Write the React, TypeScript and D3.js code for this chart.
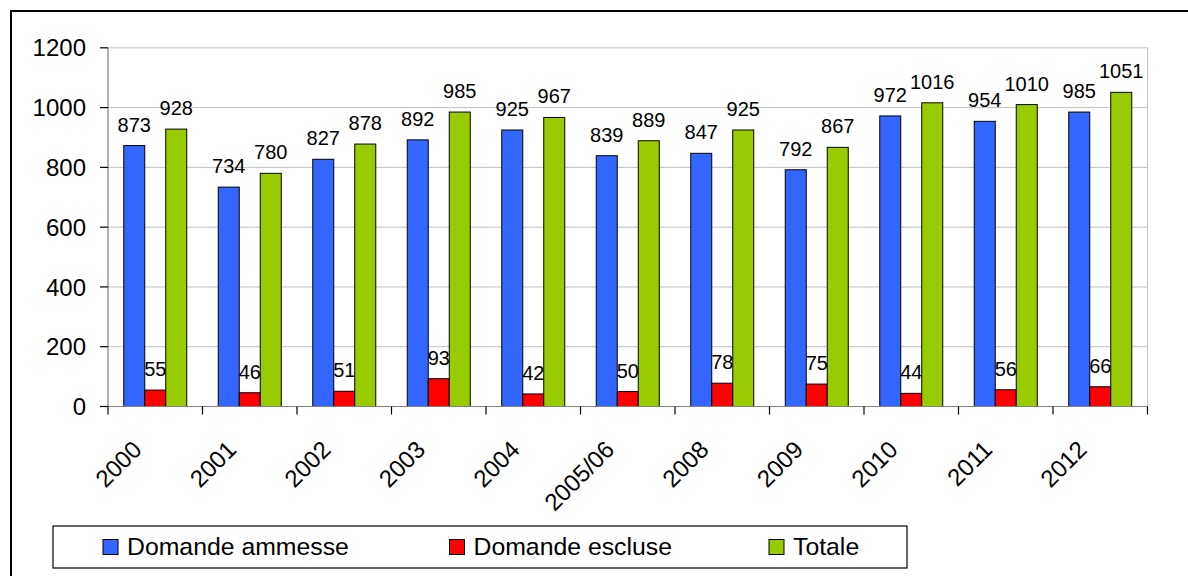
import * as d3 from "d3"

const categories = ["2000", "2001", "2002", "2003", "2004", "2005/06", "2008", "2009", "2010", "2011", "2012"]
const ammesse = [873, 734, 827, 892, 925, 839, 847, 792, 972, 954, 985]
const escluse = [55, 46, 51, 93, 42, 50, 78, 75, 44, 56, 66]
const totale = [928, 780, 878, 985, 967, 889, 925, 867, 1016, 1010, 1051]
const yTicks = [0, 200, 400, 600, 800, 1000, 1200]

const series = [
  { name: "Domande ammesse", values: ammesse, color: "#3366FF" },
  { name: "Domande escluse", values: escluse, color: "#FF0000" },
  { name: "Totale", values: totale, color: "#99CC00" },
]

const W = 1188
const H = 576
const font = "Arial, 'Liberation Sans', sans-serif"

export default function App() {
  const left = 108
  const right = 1147.5
  const top = 47.8
  const bottom = 406.5

  const x = d3.scaleBand<string>().domain(categories).range([left, right])
  const step = x.step()
  const inner = d3
    .scaleBand<string>()
    .domain(series.map((s) => s.name))
    .range([step / 6, (step * 5) / 6])
  const y = d3.scaleLinear().domain([0, 1200]).range([bottom, top])

  const legendX = [103, 449.5, 769]

  return (
    <svg width={W} height={H} style={{ position: "absolute", left: 0, top: 0, background: "#fff" }} fontFamily={font}>
      <rect x={11} y={11} width={1300} height={700} fill="#fff" stroke="#000" strokeWidth={2} />

      {/* gridlines */}
      {yTicks.slice(1).map((t) => (
        <line key={t} x1={left} x2={right} y1={y(t)} y2={y(t)} stroke="#c0c0c0" strokeWidth={1} />
      ))}
      <line x1={right} x2={right} y1={top} y2={bottom} stroke="#c0c0c0" strokeWidth={1} />

      {/* bars */}
      {series.map((s) =>
        s.values.map((v, i) => {
          const bx = (x(categories[i]) ?? 0) + (inner(s.name) ?? 0)
          return (
            <rect
              key={s.name + i}
              x={bx}
              y={y(v)}
              width={inner.bandwidth()}
              height={bottom - y(v)}
              fill={s.color}
              stroke="#000"
              strokeWidth={1}
            />
          )
        })
      )}

      {/* value labels */}
      {series.map((s) =>
        s.values.map((v, i) => {
          const cx = (x(categories[i]) ?? 0) + (inner(s.name) ?? 0) + inner.bandwidth() / 2
          return (
            <text key={"l" + s.name + i} x={cx} y={y(v) - 14} fontSize={20} textAnchor="middle" fill="#000">
              {v}
            </text>
          )
        })
      )}

      {/* axes */}
      <line x1={left} x2={left} y1={top} y2={bottom} stroke="#808080" strokeWidth={1.2} />
      <line x1={left} x2={right} y1={bottom} y2={bottom} stroke="#808080" strokeWidth={1.2} />
      {yTicks.map((t) => (
        <g key={"yt" + t}>
          <line x1={left - 8} x2={left} y1={y(t)} y2={y(t)} stroke="#000" strokeWidth={1.2} />
          <text x={86} y={y(t)} dy="0.36em" fontSize={24} textAnchor="end" fill="#000">
            {t}
          </text>
        </g>
      ))}
      {d3.range(categories.length + 1).map((k) => (
        <line
          key={"xt" + k}
          x1={left + k * step}
          x2={left + k * step}
          y1={bottom}
          y2={bottom + 8}
          stroke="#000"
          strokeWidth={1.2}
        />
      ))}
      {categories.map((c) => {
        const cx = (x(c) ?? 0) + step / 2
        return (
          <text
            key={"xl" + c}
            transform={`translate(${cx - 12},${451}) rotate(-45)`}
            fontSize={24}
            textAnchor="end"
            fill="#000"
          >
            {c}
          </text>
        )
      })}

      {/* legend */}
      <rect x={53} y={526} width={854} height={42} fill="#fff" stroke="#000" strokeWidth={1.2} />
      {series.map((s, i) => (
        <g key={"lg" + s.name}>
          <rect x={legendX[i]} y={539.5} width={15} height={15} fill={s.color} stroke="#000" strokeWidth={1} />
          <text x={legendX[i] + 24} y={555} fontSize={24.8} fill="#000">
            {s.name}
          </text>
        </g>
      ))}
    </svg>
  )
}
